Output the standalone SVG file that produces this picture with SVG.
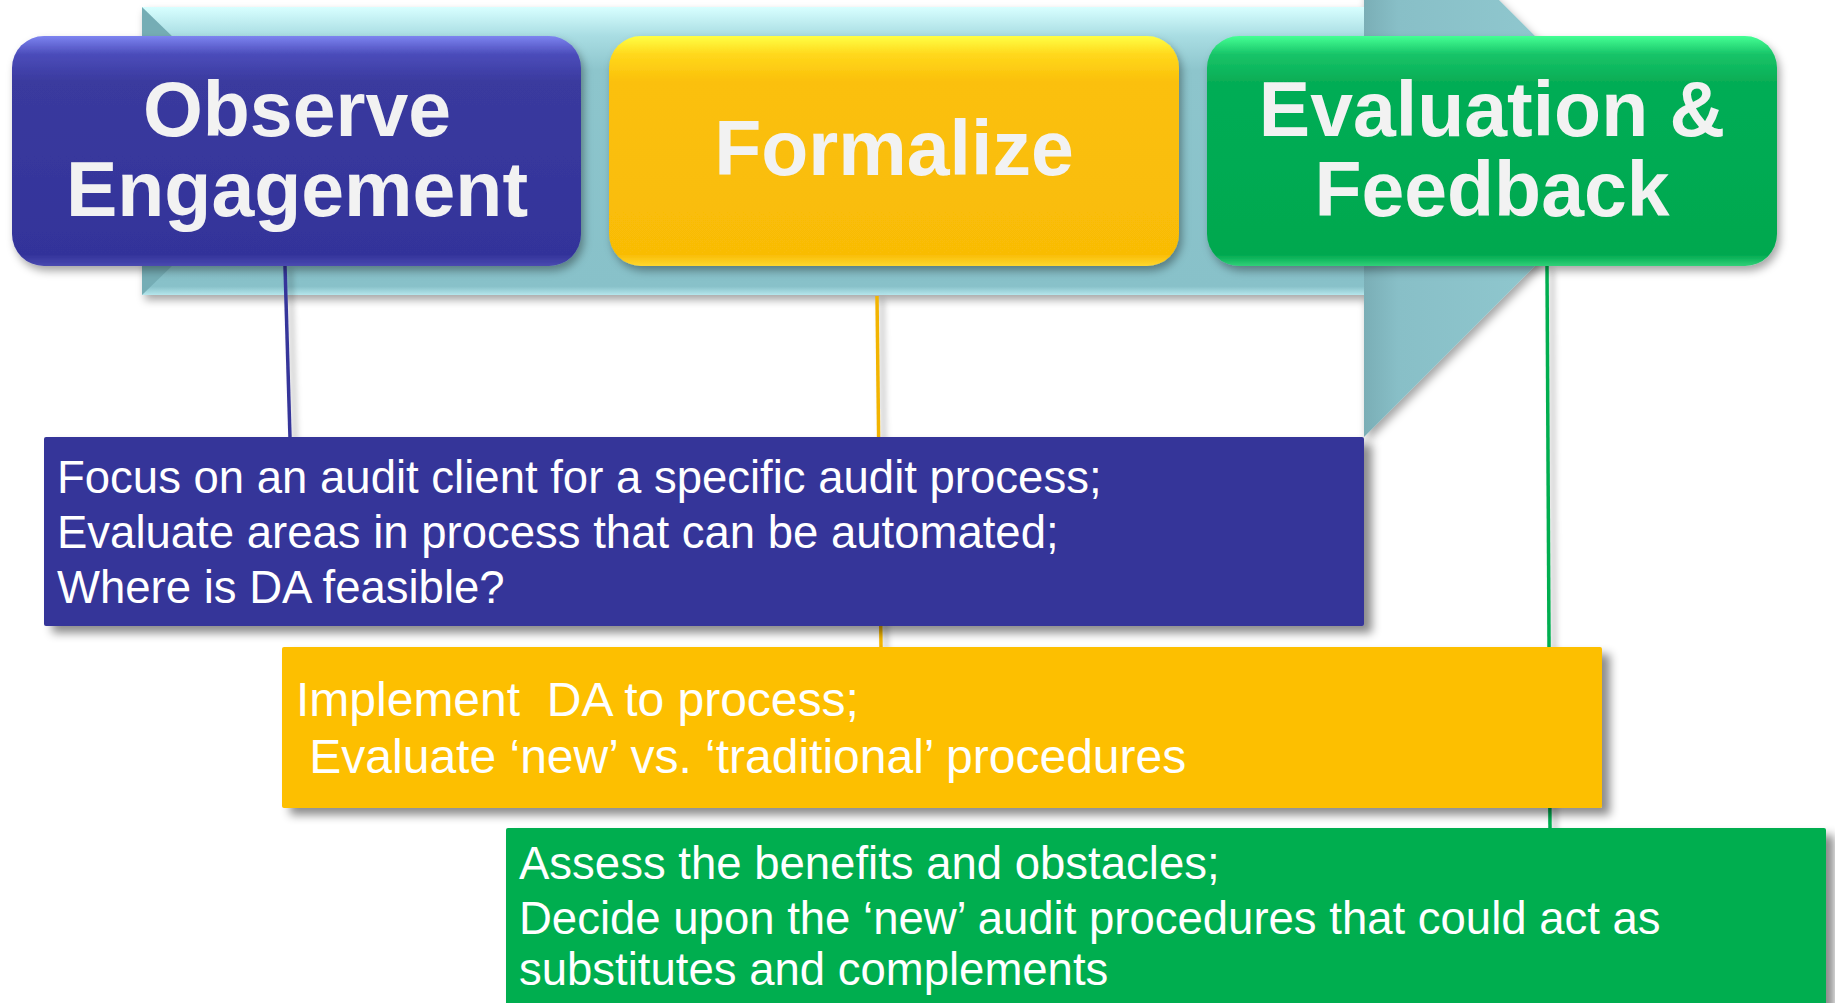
<svg xmlns="http://www.w3.org/2000/svg" width="1835" height="1003" viewBox="0 0 1835 1003">
<style>
.title{font-family:"Liberation Sans",Arial,sans-serif;font-weight:bold;font-size:77px;fill:#f2f2f2;text-anchor:middle}
.body{font-family:"Liberation Sans",Arial,sans-serif;font-size:45.5px;fill:#ffffff}
.big{font-size:48px}
</style>
<defs>
<filter id="sh" x="-10%" y="-10%" width="130%" height="140%">
<feDropShadow dx="3" dy="5" stdDeviation="4" flood-color="#000" flood-opacity="0.35"/>
</filter>
<filter id="sh2" x="-10%" y="-10%" width="130%" height="140%">
<feDropShadow dx="8" dy="7" stdDeviation="5" flood-color="#000" flood-opacity="0.45"/>
</filter>
<filter id="shl" x="-200%" y="-10%" width="500%" height="130%">
<feDropShadow dx="5" dy="3" stdDeviation="3" flood-color="#000" flood-opacity="0.3"/>
</filter>
<linearGradient id="gBody" x1="0" y1="0" x2="0" y2="1">
<stop offset="0" stop-color="#d8ffff"/>
<stop offset="0.1" stop-color="#a9dde3"/>
<stop offset="0.22" stop-color="#8dc5cc"/>
<stop offset="0.97" stop-color="#88c1c9"/>
<stop offset="1" stop-color="#b5e6ec"/>
</linearGradient>
<linearGradient id="gHead" x1="0" y1="0" x2="1" y2="0">
<stop offset="0" stop-color="#7aaeb6"/>
<stop offset="0.12" stop-color="#88bfc7"/>
<stop offset="0.6" stop-color="#8fc7ce"/>
<stop offset="1" stop-color="#a0dae0"/>
</linearGradient>
<linearGradient id="gBlue" x1="0" y1="0" x2="0" y2="1">
<stop offset="0" stop-color="#7d84f0"/>
<stop offset="0.08" stop-color="#4b4cba"/>
<stop offset="0.2" stop-color="#3a3a9e"/>
<stop offset="0.95" stop-color="#33339a"/>
<stop offset="1" stop-color="#4a4ab0"/>
</linearGradient>
<linearGradient id="gYellow" x1="0" y1="0" x2="0" y2="1">
<stop offset="0" stop-color="#ffff44"/>
<stop offset="0.08" stop-color="#ffd81c"/>
<stop offset="0.2" stop-color="#fbc00a"/>
<stop offset="0.95" stop-color="#f9bc06"/>
<stop offset="1" stop-color="#ffd830"/>
</linearGradient>
<linearGradient id="gGreen" x1="0" y1="0" x2="0" y2="1">
<stop offset="0" stop-color="#44ff94"/>
<stop offset="0.08" stop-color="#18c468"/>
<stop offset="0.2" stop-color="#06ad55"/>
<stop offset="0.95" stop-color="#00a84f"/>
<stop offset="1" stop-color="#30d078"/>
</linearGradient>
</defs>
<rect width="1835" height="1003" fill="#ffffff"/>

<g id="arrow" filter="url(#sh)">
<polygon points="1364,-135 1650,151 1364,437" fill="url(#gHead)"/>
<rect x="142" y="7" width="1222" height="288" fill="url(#gBody)"/>
<polygon points="142,7 176,40 176,262 142,295" fill="#74adb5"/>
</g>

<g id="connectors" fill="none" stroke-width="3.5" filter="url(#shl)">
<line x1="877" y1="296" x2="881" y2="647" stroke="#f2b400"/>
<line x1="285" y1="266" x2="290" y2="438" stroke="#36369a"/>
<line x1="1547" y1="266" x2="1550" y2="829" stroke="#00ae50"/>
</g>

<g id="observe">
<rect x="12" y="36" width="569" height="230" rx="32" fill="url(#gBlue)" filter="url(#sh)"/>
<text class="title" x="297" y="136">Observe</text>
<text class="title" x="297" y="216">Engagement</text>
</g>

<g id="formalize">
<rect x="609" y="36" width="570" height="230" rx="32" fill="url(#gYellow)" filter="url(#sh)"/>
<text class="title" x="894" y="175">Formalize</text>
</g>

<g id="evaluation">
<rect x="1207" y="36" width="570" height="230" rx="32" fill="url(#gGreen)" filter="url(#sh)"/>
<text class="title" x="1492" y="136">Evaluation &amp;</text>
<text class="title" x="1492" y="216">Feedback</text>
</g>

<g id="box-observe">
<rect x="44" y="437" width="1320" height="189" rx="2" fill="#363699" filter="url(#sh2)"/>
<text class="body" x="57" y="493">Focus on an audit client for a specific audit process;</text>
<text class="body" x="57" y="548">Evaluate areas in process that can be automated;</text>
<text class="body" x="57" y="603">Where is DA feasible?</text>
</g>

<g id="box-formalize">
<rect x="282" y="647" width="1320" height="161" rx="2" fill="#fdbf00" filter="url(#sh2)"/>
<text class="body big" x="296" y="716" xml:space="preserve">Implement  DA to process;</text>
<text class="body big" x="296" y="773" xml:space="preserve"> Evaluate ‘new’ vs. ‘traditional’ procedures</text>
</g>

<g id="box-evaluation">
<rect x="506" y="828" width="1320" height="190" rx="2" fill="#00ae50" filter="url(#sh2)"/>
<text class="body" x="519" y="879">Assess the benefits and obstacles;</text>
<text class="body" x="519" y="934">Decide upon the ‘new’ audit procedures that could act as</text>
<text class="body" x="519" y="985">substitutes and complements</text>
</g>
</svg>
